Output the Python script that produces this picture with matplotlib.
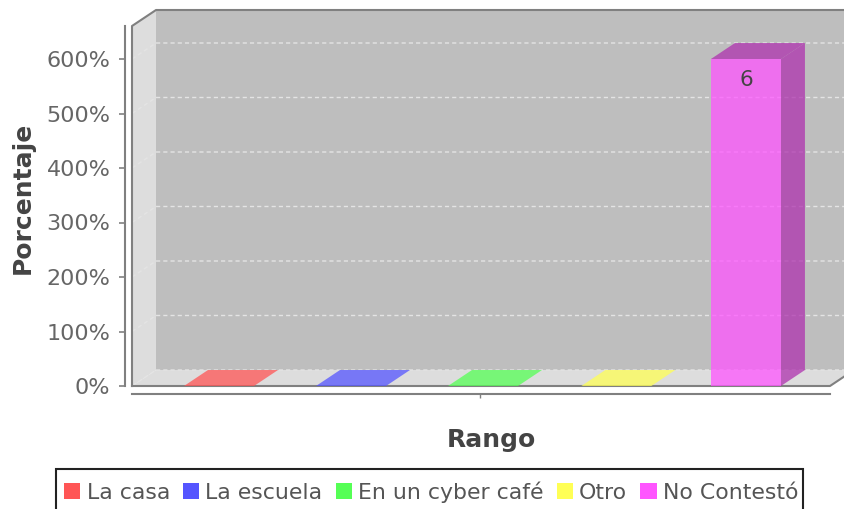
import matplotlib
matplotlib.use("Agg")
import matplotlib.pyplot as plt
from matplotlib.patches import Polygon, Patch, Rectangle
from matplotlib.ticker import FuncFormatter

series = ["La casa", "La escuela", "En un cyber café", "Otro", "No Contestó"]
values = [0, 0, 0, 0, 6]
base_colors = ["#FF5555", "#5555FF", "#55FF55", "#FFFF55", "#FF55FF"]
side_colors = ["#AF3A3A", "#3A3AAF", "#3AAF3A", "#AFAF3A", "#AF32AF"]
bar_slots = [0, 1, 2, 3.01, 3.992]
y_ticks = [0, 1, 2, 3, 4, 5, 6]

W, H = 844, 509
fig = plt.figure(figsize=(W / 100, H / 100), dpi=100, facecolor="white")
plt.rcParams["font.family"] = "DejaVu Sans"
L, R, B, T = 132, 830, 386, 26
ax = fig.add_axes([L / W, 1 - B / H, (R - L) / W, (B - T) / H], facecolor="none")
px_x = 132.0
px_y = 54.5
ax.set_xlim((L - 219) / px_x, (R - 219) / px_x)
ax.set_ylim(0, (B - T) / px_y)
dx, dy = 24 / px_x, 16 / px_y
x0, x1 = ax.get_xlim()
y0, y1 = ax.get_ylim()
wall = "#BEBEBE"
side_wall = "#DDDDDD"
edge = "#808080"
alpha = 0.75

def poly(pts, **kw):
    p = Polygon(pts, closed=True, clip_on=False, **kw)
    ax.add_patch(p)

poly([(x0 + dx, y0 + dy), (x1 + dx, y0 + dy), (x1 + dx, y1 + dy), (x0 + dx, y1 + dy)], fc=wall, ec="none", zorder=1)
poly([(x0, y0), (x0 + dx, y0 + dy), (x0 + dx, y1 + dy), (x0, y1)], fc=side_wall, ec="none", zorder=1)
poly([(x0, y0), (x1, y0), (x1 + dx, y0 + dy), (x0 + dx, y0 + dy)], fc=side_wall, ec="none", zorder=1)

for v in y_ticks:
    ax.plot([x0, x0 + dx, x1 + dx], [v, v + dy, v + dy], color="#E4E4E4", lw=1, ls=(0, (3, 2.2)), clip_on=False, zorder=2)

ax.plot([x0, x0, x0 + dx, x1 + dx], [y0, y1, y1 + dy, y1 + dy], color=edge, lw=1.5, clip_on=False, zorder=3)
ax.plot([x0, x1, x1 + dx], [y0, y0, y0 + dy], color=edge, lw=1.5, clip_on=False, zorder=3)

bar_w = 70 / px_x
for i, v in enumerate(values):
    c = bar_slots[i]
    a, b = c - bar_w / 2, c + bar_w / 2
    poly([(a, v), (b, v), (b + dx, v + dy), (a + dx, v + dy)], fc=side_colors[i] if v else base_colors[i],
         ec="none", alpha=alpha, zorder=4)
    if v:
        poly([(b, 0), (b + dx, dy), (b + dx, v + dy), (b, v)], fc=side_colors[i], ec="none", alpha=alpha, zorder=4)
ax.bar(bar_slots, values, width=bar_w, color=base_colors, alpha=alpha, zorder=5, clip_on=False)
ax.text(bar_slots[4], values[4] - 0.38, str(values[4]), ha="center", va="center", fontsize=15.5, color="#444444", zorder=6)

for s in ("top", "right"):
    ax.spines[s].set_visible(False)
ax.spines["left"].set_position(("outward", 5))
ax.spines["bottom"].set_position(("outward", 6))
for s in ("left", "bottom"):
    ax.spines[s].set_color(edge)
    ax.spines[s].set_linewidth(1.5)
ax.set_yticks(y_ticks)
ax.yaxis.set_major_formatter(FuncFormatter(lambda v, _: f"{v * 100:.0f}%"))
ax.set_xticks([(x0 + x1) / 2 - 1 / px_x])
ax.set_xticklabels([""])
ax.tick_params(axis="y", labelsize=16, labelcolor="#666666", color=edge, length=4, width=1.2, pad=6.5)
ax.tick_params(axis="x", color=edge, length=3, width=1)
ax.set_xlabel("Rango", fontsize=18, fontweight="bold", color="#444444")
ax.set_ylabel("Porcentaje", fontsize=18, fontweight="bold", color="#444444")
ax.xaxis.set_label_coords(491 / W, 1 - 440 / H, transform=fig.transFigure)
ax.yaxis.set_label_coords(23 / W, 1 - 198 / H, transform=fig.transFigure)
ax.xaxis.label.set_va("center")
ax.yaxis.label.set_va("center")

fig.add_artist(Rectangle((56 / W, 1 - 515 / H), (803 - 56) / W, (515 - 469) / H, transform=fig.transFigure,
                         fc="white", ec="#222222", lw=1.5))
handles = [Patch(fc=c, ec="none") for c in base_colors]
leg = fig.legend(handles, series, ncol=5, loc="upper left", bbox_to_anchor=(56 / W, 1 - 473 / H),
                 borderaxespad=0, fontsize=15.8, frameon=False,
                 handlelength=0.74, handleheight=0.74, handletextpad=0.28, columnspacing=0.6,
                 borderpad=0.37, labelcolor="#555555")

fig.savefig("out.png", dpi=100)
